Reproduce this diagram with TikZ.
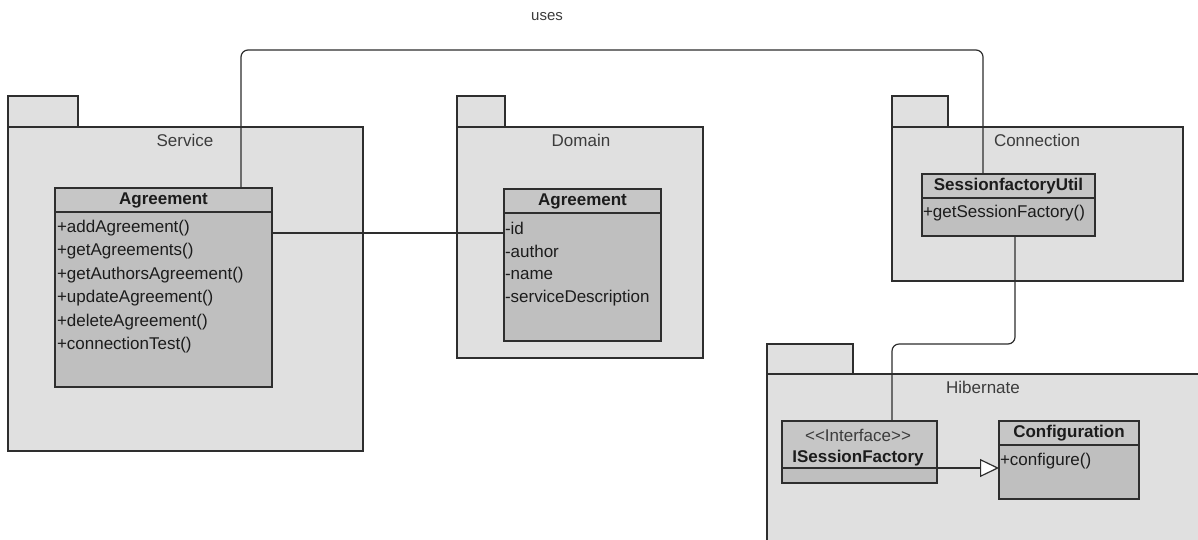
\documentclass[tikz,border=0pt]{standalone}
\usepackage{fontspec}
\newfontfamily\umlfont{Liberation Sans}
\usetikzlibrary{arrows.meta}
\definecolor{pkgfill}{HTML}{E0E0E0}
\definecolor{clsfill}{HTML}{BFBFBF}
\definecolor{hdrfill}{HTML}{C6C6C6}
\definecolor{linec}{HTML}{2E2E2E}
\definecolor{txtc}{HTML}{1C1C1C}
\definecolor{pkgtxt}{HTML}{3C3C3C}
\begin{document}
\begin{tikzpicture}[x=1pt,y=-1pt,
  every node/.style={font=\umlfont\fontsize{17pt}{20pt}\selectfont, inner sep=0pt, outer sep=0pt},
  pkgbox/.style={draw=linec, fill=pkgfill, line width=1.2pt, anchor=north west},
  pkglabel/.style={text=pkgtxt},
  clsbox/.style={draw=linec, fill=clsfill, line width=1.2pt, anchor=north west},
  clshead/.style={draw=linec, fill=hdrfill, line width=1.2pt, anchor=north west, text=txtc, font=\umlfont\bfseries\fontsize{17pt}{20pt}\selectfont},
  member/.style={anchor=west, text=txtc},
  conn/.style={draw=linec, line width=1.2pt},
]
\useasboundingbox[fill=white] (0,0) rectangle (1198,539);

% ---- packages ----
\node[pkgbox, minimum width=70pt, minimum height=31pt] (svcTab) at (8,96) {};
\node[pkgbox, minimum width=355pt, minimum height=324pt] (svc) at (8,127) {};
\node[pkglabel] (svcLbl) at (185,140) {Service};

\node[pkgbox, minimum width=48pt, minimum height=31pt] (domTab) at (457,96) {};
\node[pkgbox, minimum width=246pt, minimum height=231pt] (dom) at (457,127) {};
\node[pkglabel] (domLbl) at (581,140) {Domain};

\node[pkgbox, minimum width=56pt, minimum height=31pt] (conTab) at (892,96) {};
\node[pkgbox, minimum width=291pt, minimum height=154pt] (con) at (892,127) {};
\node[pkglabel] (conLbl) at (1037,140) {Connection};

\node[pkgbox, minimum width=86pt, minimum height=30pt] (hibTab) at (767,344) {};
\node[pkgbox, minimum width=460pt, minimum height=220pt] (hib) at (767,374) {};
\node[pkglabel] (hibLbl) at (983,387) {Hibernate};

% ---- classes ----
% Service::Agreement
\node[clsbox, minimum width=217pt, minimum height=199pt] (svcA) at (55,188) {};
\node[clshead, minimum width=217pt, minimum height=24pt] (svcAhead) at (55,188) {Agreement};
\foreach \m [count=\i] in {+addAgreement(), +getAgreements(), +getAuthorsAgreement(),
    +updateAgreement(), +deleteAgreement(), +connectionTest()}
  \node[member] (svcAm\i) at (57,{228+23.4*(\i-1)}) {\m};

% Domain::Agreement
\node[clsbox, minimum width=157pt, minimum height=152pt] (domA) at (504,189) {};
\node[clshead, minimum width=157pt, minimum height=24pt] (domAhead) at (504,189) {Agreement};
\foreach \m [count=\i] in {-id, -author, -name, -serviceDescription}
  \node[member] (domAm\i) at (505,{228+23.4*(\i-1)}) {\m};

% Connection::SessionfactoryUtil
\node[clsbox, minimum width=173pt, minimum height=62pt] (sfu) at (922,174) {};
\node[clshead, minimum width=173pt, minimum height=24pt] (sfuhead) at (922,174) {SessionfactoryUtil};
\node[member] (sfum1) at (923,213) {+getSessionFactory()};

% Hibernate::ISessionFactory
\node[clsbox, minimum width=155pt, minimum height=62pt] (isf) at (782,421) {};
\node[clshead, minimum width=155pt, minimum height=47pt] (isfhead) at (782,421) {};
\node[text=pkgtxt] (isfstereo) at (858,435) {\char"3C\char"3C Interface\char"3E\char"3E};
\node[font=\umlfont\bfseries\fontsize{17pt}{20pt}\selectfont, text=txtc] (isfname) at (858,458) {ISessionFactory};

% Hibernate::Configuration
\node[clsbox, minimum width=140pt, minimum height=78pt] (cfg) at (999,421) {};
\node[clshead, minimum width=140pt, minimum height=24pt] (cfghead) at (999,421) {Configuration};
\node[member] (cfgm1) at (1000,461) {+configure()};

% ---- connectors ----
\coordinate (u1) at (241,50);
\coordinate (u2) at (983,50);
\draw[conn, rounded corners=7pt] (svcA.north -| u1) -- (u1) -- (u2) -- (sfu.north -| u2);
\node[text=pkgtxt, font=\umlfont\fontsize{15pt}{18pt}\selectfont] (usesLbl) at (547,17) {uses};

\coordinate (a1) at (0,233);
\draw[conn] (svcA.east |- a1) -- (domA.west |- a1);

\coordinate (c1) at (1015,344);
\coordinate (c2) at (892,344);
\draw[conn, rounded corners=7pt] (sfu.south -| c1) -- (c1) -- (c2) -- (isf.north -| c2);

\coordinate (g1) at (0,468);
\draw[conn, -{Triangle[fill=white, length=19pt, width=18pt]}] (isf.east |- g1) -- (cfg.west |- g1);
\end{tikzpicture}
\end{document}
